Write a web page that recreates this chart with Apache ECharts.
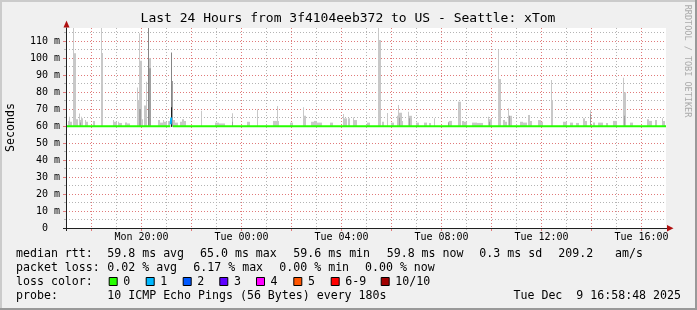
<!DOCTYPE html>
<html><head><meta charset="utf-8">
<script src="https://cdn.jsdelivr.net/npm/echarts@6/dist/echarts.min.js"></script>
<style>html,body{margin:0;padding:0;background:#f0f0f0}#c{width:697px;height:310px}</style>
</head><body><div id="c"></div>
<script>
// ---------------- data ----------------
const titleText = 'Last 24 Hours from 3f4104eeb372 to US - Seattle: xTom';
const windowStart = 'Mon 16:58:48';
const windowMinutes = 1440;
const xTickLabels = ['Mon 20:00', 'Tue 00:00', 'Tue 04:00', 'Tue 08:00', 'Tue 12:00', 'Tue 16:00'];
const yTickValues = [0, 10, 20, 30, 40, 50, 60, 70, 80, 90, 100, 110];
const yMinorValues = [5, 15, 25, 35, 45, 55, 65, 75, 85, 95, 105, 115];
const yMax = 117.65;
const smokeBase = 59.6;
// smoke rows: [start minute since window start, end minute, top in ms]
const smokeOuter = [
  [5.0, 7.5, 63], [7.5, 10.0, 65.5], [10.0, 13.2, 62.5],
  [17.0, 18.5, 118], [17.0, 23.5, 102.8], [23.5, 28.3, 64],
  [30.7, 33.0, 67.4], [33.0, 35.5, 63.5], [35.5, 38.0, 65.5], [38.0, 40.3, 64.5],
  [45.1, 48.0, 63.5], [48.0, 52.3, 62.5], [64.3, 69.1, 63],
  [82.8, 84.3, 118], [83.5, 89.0, 103],
  [113.0, 116.0, 63.5], [116.0, 121.2, 62.5], [124.3, 128.0, 62.5], [128.0, 133.9, 61.8],
  [141.1, 146.0, 62], [146.0, 153.1, 61.5],
  [169.2, 170.6, 82.7], [170.6, 175.4, 75.3], [175.4, 177.1, 114.5], [177.1, 181.2, 98.4],
  [181.2, 184.3, 64], [188.0, 191.5, 72], [191.5, 194.6, 86], [198.0, 202.8, 99.8],
  [220.3, 226.0, 63.5], [226.0, 232.0, 62], [232.0, 236.0, 63.5], [236.0, 241.9, 62.5],
  [245.0, 250.0, 63], [256.3, 262.0, 63.5], [262.0, 268.0, 62],
  [273.1, 278.0, 62.5], [278.0, 283.0, 64], [283.0, 287.5, 63],
  [322.8, 324.8, 69], [324.8, 326.6, 63.5], [357.1, 368.0, 62], [368.0, 381.1, 61.5],
  [397.2, 399.0, 67.5], [399.0, 401.0, 63], [433.2, 441.1, 62.5],
  [457.2, 459.0, 69.8], [459.0, 461.0, 63],
  [497.0, 505.2, 63], [506.6, 509.0, 71.8], [509.0, 512.0, 63],
  [537.1, 544.3, 62], [569.0, 572.0, 71], [572.0, 575.5, 66],
  [587.5, 595.0, 62.5], [595.0, 603.0, 63], [603.0, 613.9, 62],
  [633.1, 640.3, 62], [665.0, 668.0, 67], [668.0, 673.2, 64.5],
  [676.3, 681.1, 64.5], [689.0, 692.0, 65], [692.0, 697.2, 63.5], [721.9, 729.1, 62],
  [747.6, 749.0, 118], [749.0, 755.5, 110.6], [758.0, 762.0, 62.5],
  [769.2, 773.0, 67.6], [780.0, 786.0, 62],
  [793.2, 796.3, 66], [796.3, 798.7, 72.4], [798.7, 805.2, 67.8], [805.2, 809.0, 63],
  [820.3, 823.0, 68.4], [823.0, 829.2, 66], [840.0, 846.0, 62],
  [858.7, 865.9, 62], [870.0, 876.0, 61.8], [882.7, 885.1, 64.5],
  [916.3, 920.0, 62.5], [920.0, 925.2, 63], [941.0, 946.8, 74.3],
  [949.2, 955.0, 63], [955.0, 961.2, 62.5], [974.9, 987.0, 62], [987.0, 1001.3, 61.8],
  [1012.3, 1016.0, 65.5], [1016.0, 1021.2, 64],
  [1035.6, 1038.0, 104.7], [1037.0, 1043.5, 87.6],
  [1049.0, 1053.0, 63.5], [1053.0, 1057.2, 62.5], [1061.0, 1064.0, 70.4], [1064.0, 1069.2, 66],
  [1089.1, 1097.0, 62.5], [1097.0, 1105.2, 62], [1109.0, 1113.0, 66.5], [1113.0, 1117.2, 63],
  [1133.0, 1139.0, 63.5], [1139.0, 1145.0, 62.5],
  [1162.8, 1165.2, 87], [1164.2, 1168.3, 75.3],
  [1193.0, 1201.2, 62.5], [1209.1, 1216.3, 62], [1225.0, 1230.0, 61.8],
  [1241.0, 1245.0, 64.5], [1245.0, 1249.2, 63], [1257.1, 1259.5, 69.4],
  [1264.0, 1270.0, 62], [1276.3, 1288.3, 62], [1295.0, 1300.0, 61.8],
  [1313.0, 1321.2, 63], [1335.6, 1338.0, 88.4], [1337.0, 1343.5, 79.8],
  [1353.1, 1360.3, 62], [1393.2, 1399.0, 64], [1399.0, 1405.2, 63],
  [1413.1, 1417.2, 63.5], [1429.2, 1433.0, 64.5], [1433.0, 1437.1, 63]
];
const smokeInner = [
  [33.0, 36.0, 62], [176.0, 180.0, 70], [198.0, 202.8, 94], [253.2, 256.3, 86.5],
  [398.0, 400.0, 62.5], [798.7, 801.5, 65], [822.0, 826.0, 64.5], [916.3, 920.0, 62],
  [1062.0, 1066.0, 66], [1257.1, 1259.5, 67], [1014.0, 1017.0, 62.5], [1339.0, 1342.0, 66]
];
const smokeCore = [
  [196.3, 198.0, 118], [250.8, 253.2, 103.3]
];
const smokeDense = [
  [250.8, 253.2, 71]
];
// median rtt with number of lost pings
const medianTimes  = [0, 250.3, 251.2, 252.6, 256.3, 1440];
const medianValues = [59.8, 59.8, 61.0, 65.0, 59.8, 59.8];
const medianLoss   = [0, 0, 1, 1, 0, 0];
const lossLabels = ['0', '1', '2', '3', '4', '5', '6-9', '10/10'];
const lossColors = ['#26ff00', '#00b8ff', '#0059ff', '#5e00ff', '#ff00ff', '#ff5500', '#ff0000', '#a10000'];
const medianStats = ['59.8 ms avg', '65.0 ms max', '59.6 ms min', '59.8 ms now', '0.3 ms sd', '209.2', 'am/s'];
const lossStats = ['0.02 % avg', '6.17 % max', '0.00 % min', '0.00 % now'];
const probeText = '10 ICMP Echo Pings (56 Bytes) every 180s';
const stampText = 'Tue Dec  9 16:58:48 2025';

// ---------------- helpers ----------------
const MONO = "'DejaVu Sans Mono', monospace";
function parseClock(s) {
  const [d, t] = s.split(' ');
  const p = t.split(':').map(Number);
  return (d === 'Tue' ? 1440 : 0) + p[0] * 60 + p[1] + (p[2] || 0) / 60;
}
const startAbs = parseClock(windowStart);
const labelValues = xTickLabels.map(s => +(parseClock(s) - startAbs).toFixed(3));
const labelMap = {};
labelValues.forEach((v, i) => labelMap[v.toFixed(1)] = xTickLabels[i]);
const evenHours = [], oddHours = [];
for (let h = Math.ceil(startAbs / 60); h * 60 - startAbs <= windowMinutes; h++) {
  const v = +(h * 60 - startAbs).toFixed(3);
  ((h % 2) === 0 ? evenHours : oddHours).push(v);
}

function smokeSeries(name, data, color) {
  return {
    type: 'custom', name, xAxisIndex: 0, yAxisIndex: 0, data, silent: true,
    renderItem(params, api) {
      const top = Math.min(api.value(2), yMax);
      const p0 = api.coord([api.value(0), smokeBase]);
      const p1 = api.coord([api.value(1), top]);
      const x = Math.round(p0[0]);
      const w = Math.max(1, Math.round(p1[0]) - x);
      return { type: 'rect', shape: { x, y: p1[1], width: w, height: p0[1] - p1[1] }, style: { fill: color } };
    }
  };
}
function medianSeries() {
  const out = [];
  const levels = [...new Set(medianLoss)];
  levels.forEach(lv => {
    const d = [];
    for (let i = 1; i < medianTimes.length; i++) {
      if (medianLoss[i] === lv && medianLoss[i - 1] === lv) {
        d.push([medianTimes[i - 1], medianValues[i - 1]]);
        d.push([medianTimes[i], medianValues[i]]);
        d.push([medianTimes[i], '-']);
      }
    }
    out.push({
      type: 'line', data: d, xAxisIndex: 0, yAxisIndex: 0, showSymbol: false, symbol: 'none',
      connectNulls: false, silent: true, z: 5,
      lineStyle: { color: lossColors[lv], width: 2 }
    });
  });
  return out;
}

// ---------------- chart ----------------
const chart = echarts.init(document.getElementById('c'), null, { renderer: 'canvas' });
const G = { left: 66, top: 28, width: 600, height: 200 };
const txt = (x, y, text, extra) => Object.assign({
  type: 'text', x, y, silent: true,
  style: Object.assign({ text, fill: '#000', font: "11.6px " + MONO, textAlign: 'left', textVerticalAlign: 'middle' }, extra || {})
});
const graphics = [
  { type: 'rect', shape: { x: 0, y: 0, width: 697, height: 2 }, style: { fill: '#cbcbcb' } },
  { type: 'rect', shape: { x: 0, y: 0, width: 2, height: 310 }, style: { fill: '#cbcbcb' } },
  { type: 'rect', shape: { x: 0, y: 308, width: 697, height: 2 }, style: { fill: '#999999' } },
  { type: 'rect', shape: { x: 695, y: 0, width: 2, height: 310 }, style: { fill: '#999999' } },
  txt(348, 19, titleText, { font: "13px " + MONO, textAlign: 'center' }),
  { type: 'text', x: 10.5, y: 127.5, rotation: Math.PI / 2, silent: true,
    style: { text: 'Seconds', fill: '#000', font: "11.6px " + MONO, textAlign: 'center', textVerticalAlign: 'middle' } },
  { type: 'text', x: 687.5, y: 61, rotation: -Math.PI / 2, silent: true,
    style: { text: 'RRDTOOL / TOBI OETIKER', fill: '#aaaaaa', font: "8.5px " + MONO, textAlign: 'center', textVerticalAlign: 'middle' } },
  { type: 'polygon', shape: { points: [[63.5, 27.5], [69.5, 27.5], [66.5, 20.5]] }, style: { fill: '#b01010' }, z: 100 },
  { type: 'polygon', shape: { points: [[667, 225], [667, 231.5], [673.5, 228.2]] }, style: { fill: '#b01010' }, z: 100 },
  { type: 'line', shape: { x1: 66.5, y1: 27.5, x2: 66.5, y2: 231 }, style: { stroke: '#202020', lineWidth: 1 }, z: 99 },
  { type: 'line', shape: { x1: 63, y1: 228.5, x2: 667, y2: 228.5 }, style: { stroke: '#202020', lineWidth: 1 }, z: 99 }
];
// legend rows
const rowY = [253.6, 267.8, 282.0, 296.3];
graphics.push(txt(16, rowY[0], 'median rtt:'));
[107.3, 200, 293.3, 386.7, 479.3, 558.3, 615].forEach((x, i) => graphics.push(txt(x, rowY[0], medianStats[i])));
graphics.push(txt(16, rowY[1], 'packet loss:'));
[107.3, 193.3, 279.3, 365].forEach((x, i) => graphics.push(txt(x, rowY[1], lossStats[i])));
graphics.push(txt(16, rowY[2], 'loss color:'));
[108.7, 145.7, 182.7, 219.3, 256, 293.3, 330.7, 380.7].forEach((x, i) => {
  graphics.push({ type: 'rect', shape: { x: x + 0.5, y: rowY[2] - 4.5, width: 8, height: 8 },
    style: { fill: lossColors[i], stroke: '#000', lineWidth: 1 } });
  graphics.push(txt(x + 14.6, rowY[2], lossLabels[i]));
});
graphics.push(txt(16, rowY[3], 'probe:'));
graphics.push(txt(107.3, rowY[3], probeText));
graphics.push(txt(681, rowY[3], stampText, { textAlign: 'right' }));

const axisFont = { fontFamily: MONO, fontSize: 10, color: '#000' };
const majorGrid = { color: '#e07a7a', type: [1, 2], width: 1 };
const minorGrid = { color: '#b4b4b4', type: [1, 2], width: 1 };
chart.setOption({
  animation: false,
  backgroundColor: '#f0f0f0',
  grid: Object.assign({ show: true, backgroundColor: '#ffffff', borderWidth: 0 }, G),
  xAxis: [
    { type: 'value', min: 0, max: windowMinutes, position: 'bottom',
      axisLine: { show: false },
      axisTick: { show: true, customValues: evenHours, length: 3, lineStyle: { color: '#e07a7a' } },
      axisLabel: Object.assign({ show: true, customValues: labelValues, margin: 4,
        formatter: v => labelMap[(+v).toFixed(1)] || '' }, axisFont),
      splitLine: { show: true, lineStyle: majorGrid } },
    { type: 'value', min: 0, max: windowMinutes, position: 'bottom',
      axisLine: { show: false },
      axisTick: { show: true, customValues: oddHours, length: 2, lineStyle: { color: '#b4b4b4' } },
      axisLabel: { show: false },
      splitLine: { show: true, lineStyle: minorGrid } }
  ],
  yAxis: [
    { type: 'value', min: 0, max: yMax, position: 'left',
      axisLine: { show: false },
      axisTick: { show: true, customValues: yTickValues, length: 3, lineStyle: { color: '#e07a7a' } },
      axisLabel: Object.assign({ show: true, customValues: yTickValues, margin: 6,
        formatter: v => v === 0 ? '0\u00a0\u00a0' : v + ' m' }, axisFont),
      splitLine: { show: true, lineStyle: majorGrid } },
    { type: 'value', min: 0, max: yMax, position: 'left',
      axisLine: { show: false },
      axisTick: { show: true, customValues: yMinorValues, length: 2, lineStyle: { color: '#b4b4b4' } },
      axisLabel: { show: false },
      splitLine: { show: true, lineStyle: minorGrid } }
  ],
  series: [
    smokeSeries('outer', smokeOuter, '#c8c8c8'),
    smokeSeries('inner', smokeInner, '#a0a0a0'),
    smokeSeries('core', smokeCore, '#858585'),
    smokeSeries('dense', smokeDense, '#1e1e1e'),
    ...medianSeries()
  ],
  graphic: graphics
});
</script></body></html>
